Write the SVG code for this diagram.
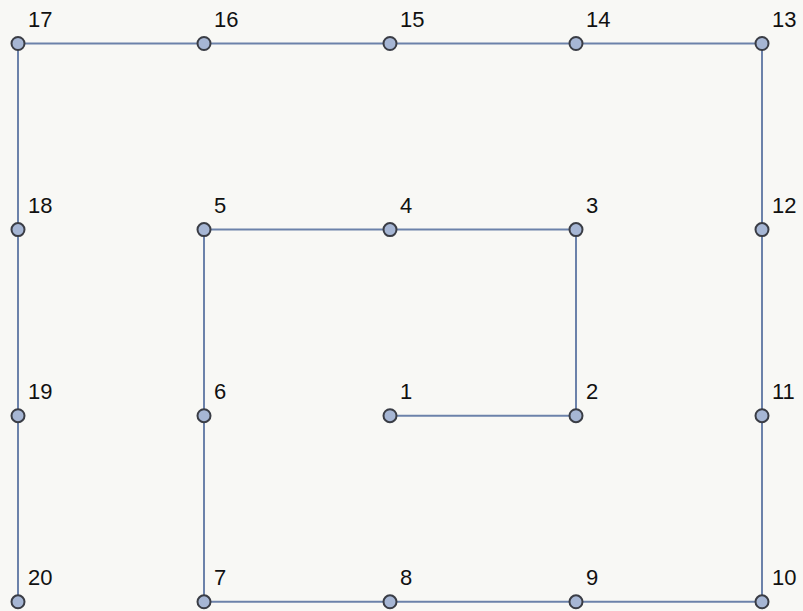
<svg xmlns="http://www.w3.org/2000/svg" width="803" height="611" viewBox="0 0 803 611">
<style>
.e{fill:none;stroke:#6c82aa;stroke-width:2}
.n circle{fill:#a6b6d4;stroke:#3a3d45;stroke-width:2}
.n text{font-family:"Liberation Sans",Arial,sans-serif;font-size:22px;fill:#111}
</style>
<rect width="803" height="611" fill="#f8f8f5"/>
<g id="edges">
<polyline class="e" points="390,415.7 576,415.7 576,229.6 390,229.6 204,229.6 204,415.7 204,601.8 390,601.8 576,601.8 762,601.8 762,415.7 762,229.6 762,43.5 576,43.5 390,43.5 204,43.5 18,43.5 18,229.6 18,415.7 18,601.8"/>
</g>
<g id="n1" class="n"><circle cx="390" cy="415.7" r="6.5"/><text x="400" y="399">1</text></g>
<g id="n2" class="n"><circle cx="576" cy="415.7" r="6.5"/><text x="586" y="399">2</text></g>
<g id="n3" class="n"><circle cx="576" cy="229.6" r="6.5"/><text x="586" y="213">3</text></g>
<g id="n4" class="n"><circle cx="390" cy="229.6" r="6.5"/><text x="400" y="213">4</text></g>
<g id="n5" class="n"><circle cx="204" cy="229.6" r="6.5"/><text x="214" y="213">5</text></g>
<g id="n6" class="n"><circle cx="204" cy="415.7" r="6.5"/><text x="214" y="399">6</text></g>
<g id="n7" class="n"><circle cx="204" cy="601.8" r="6.5"/><text x="214" y="585">7</text></g>
<g id="n8" class="n"><circle cx="390" cy="601.8" r="6.5"/><text x="400" y="585">8</text></g>
<g id="n9" class="n"><circle cx="576" cy="601.8" r="6.5"/><text x="586" y="585">9</text></g>
<g id="n10" class="n"><circle cx="762" cy="601.8" r="6.5"/><text x="772" y="585">10</text></g>
<g id="n11" class="n"><circle cx="762" cy="415.7" r="6.5"/><text x="772" y="399">11</text></g>
<g id="n12" class="n"><circle cx="762" cy="229.6" r="6.5"/><text x="772" y="213">12</text></g>
<g id="n13" class="n"><circle cx="762" cy="43.5" r="6.5"/><text x="772" y="27">13</text></g>
<g id="n14" class="n"><circle cx="576" cy="43.5" r="6.5"/><text x="586" y="27">14</text></g>
<g id="n15" class="n"><circle cx="390" cy="43.5" r="6.5"/><text x="400" y="27">15</text></g>
<g id="n16" class="n"><circle cx="204" cy="43.5" r="6.5"/><text x="214" y="27">16</text></g>
<g id="n17" class="n"><circle cx="18" cy="43.5" r="6.5"/><text x="28" y="27">17</text></g>
<g id="n18" class="n"><circle cx="18" cy="229.6" r="6.5"/><text x="28" y="213">18</text></g>
<g id="n19" class="n"><circle cx="18" cy="415.7" r="6.5"/><text x="28" y="399">19</text></g>
<g id="n20" class="n"><circle cx="18" cy="601.8" r="6.5"/><text x="28" y="585">20</text></g>
</svg>
